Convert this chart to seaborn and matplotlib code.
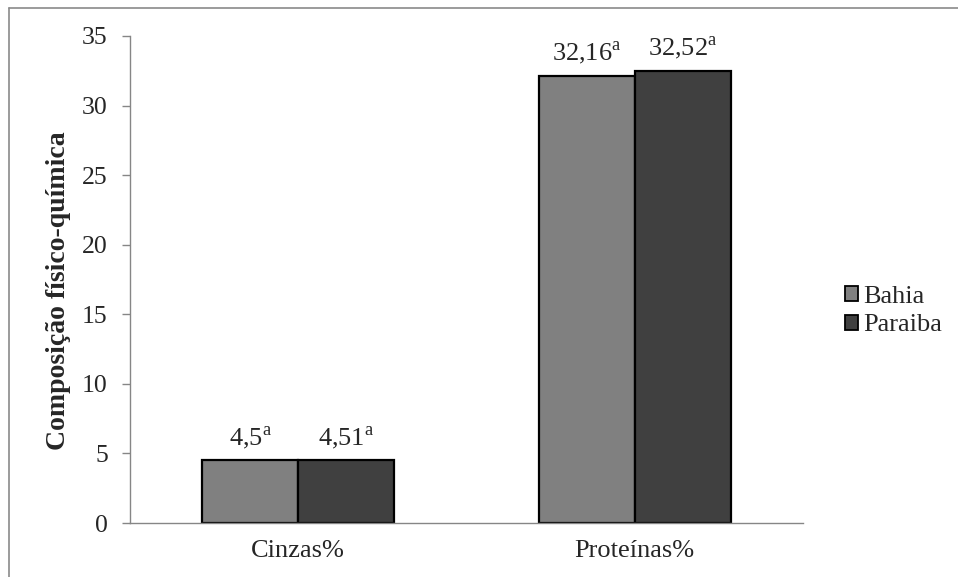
import matplotlib
matplotlib.use("Agg")
import matplotlib.pyplot as plt
from matplotlib.patches import Patch
from matplotlib.lines import Line2D
import seaborn as sns
import pandas as pd

categories = ["Cinzas%", "Proteínas%"]
series = ["Bahia", "Paraiba"]
bahia = [4.5, 32.16]
paraiba = [4.51, 32.52]
labels_bahia = ["4,5", "32,16"]
labels_paraiba = ["4,51", "32,52"]
yticks = [0, 5, 10, 15, 20, 25, 30, 35]
colors = ["#808080", "#404040"]

sns.set_theme(style="white")
plt.rcParams["font.family"] = ["Liberation Serif", "DejaVu Serif"]
plt.rcParams["mathtext.fontset"] = "custom"
plt.rcParams["mathtext.rm"] = "Liberation Serif"

df = pd.DataFrame({
    "Categoria": categories * 2,
    "Local": [series[0]] * 2 + [series[1]] * 2,
    "Valor": bahia + paraiba,
})

FS = 19

fig = plt.figure(figsize=(9.58, 5.77), dpi=100)
ax = fig.add_axes([130 / 958, 1 - 523 / 577, (803 - 130) / 958, (523 - 36) / 577])

sns.barplot(data=df, x="Categoria", y="Valor", hue="Local", order=categories,
            hue_order=series, palette=colors, width=0.57, edgecolor="black",
            linewidth=1.6, ax=ax, legend=False, saturation=1)

ax.set_ylim(0, 35)
ax.set_yticks(yticks)
ax.set_yticklabels([str(t) for t in yticks], fontsize=18.5)
ax.tick_params(axis="y", which="both", left=True, length=6, width=1, color="#868686", pad=10)
ax.tick_params(axis="x", length=0, labelsize=FS, pad=12)
ax.set_xlabel("")
ax.set_ylabel("Composição físico-química", fontsize=20, fontweight="bold")
ax.yaxis.set_label_coords((71 - 130) / 673, (523 - 291) / 487)
for s in ["top", "right"]:
    ax.spines[s].set_visible(False)
for s in ["left", "bottom"]:
    ax.spines[s].set_color("#868686")
    ax.spines[s].set_linewidth(1)
ax.set_xlim(-0.5, 1.5)

all_labels = [labels_bahia, labels_paraiba]
for cont, labs in zip(ax.containers, all_labels):
    ax.bar_label(cont, labels=[l + r"$^{\mathrm{a}}$" for l in labs],
                 padding=6, fontsize=FS)

handles = [Patch(facecolor=c, edgecolor="black", linewidth=1.3) for c in colors]
ax.legend(handles, series, loc="center left", bbox_to_anchor=(1 + 42 / 673, 0.435),
          frameon=False, fontsize=FS, handlelength=0.5, handleheight=0.5,
          handletextpad=0.2, labelspacing=0.25, borderaxespad=0, borderpad=0)

fig.add_artist(Line2D([9 / 958, 9 / 958], [0, 1 - 8 / 577], transform=fig.transFigure,
                      color="#8a8a8a", lw=1.2))
fig.add_artist(Line2D([9 / 958, 1], [1 - 8 / 577, 1 - 8 / 577], transform=fig.transFigure,
                      color="#8a8a8a", lw=1.2))

fig.savefig("out.png", dpi=100)
